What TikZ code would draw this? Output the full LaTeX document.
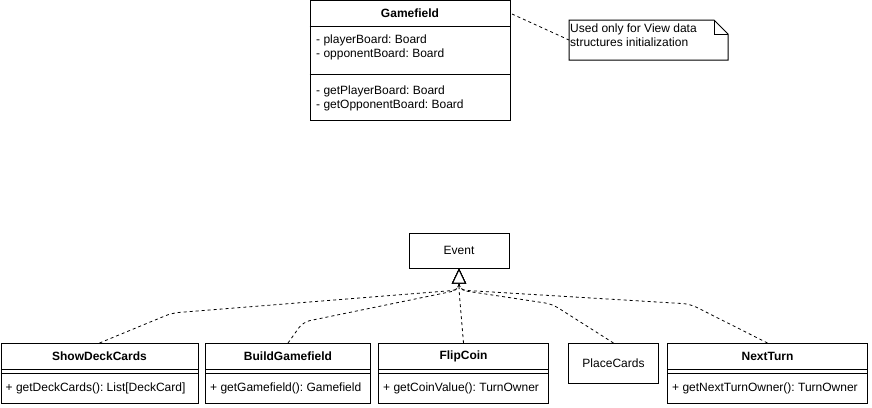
\documentclass[tikz,border=0pt]{standalone}
\usepackage{fontspec}
\setmainfont{Liberation Sans}
\usepackage{tikz}
\usetikzlibrary{arrows.meta,positioning}
\frenchspacing
\tikzset{
  class box/.style={draw=black, line width=1pt, fill=white, inner sep=0pt},
  class name/.style={font=\fontsize{12}{14}\selectfont\bfseries, inner sep=0pt},
  class plain/.style={font=\fontsize{12}{14}\selectfont, inner sep=0pt},
  member/.style={font=\fontsize{12}{13}\selectfont, anchor=west, inner sep=0pt},
  note text/.style={font=\fontsize{12}{14}\selectfont, align=left,
    anchor=north west, inner sep=0pt},
  realize/.style={dash pattern=on 3pt off 3pt, line width=0.8pt,
    rounded corners=7pt,
    -{Triangle[open, length=15pt, width=14pt, line width=1pt, fill=white]}},
  note link/.style={dash pattern=on 3pt off 3pt, line width=0.8pt}
}

\begin{document}
\begin{tikzpicture}[x=1pt, y=-1pt]
  \useasboundingbox (0,0) rectangle (872,407);

  % Gamefield class
  \node[class box, minimum width=200pt, minimum height=120pt] (gf) at (410,60) {};
  \draw[line width=1pt] (gf.west |- 0,26) -- (gf.east |- 0,26);
  \draw[line width=1pt] (gf.west |- 0,74) -- (gf.east |- 0,74);
  \node[class name] (gfname) at (410,13) {Gamefield};
  \node[member] (gfa1) at (316,40.5) {- playerBoard: Board};
  \node[member] (gfa2) at (316,54) {- opponentBoard: Board};
  \node[member] (gfm1) at (316,91.5) {- getPlayerBoard: Board};
  \node[member] (gfm2) at (316,105) {- getOpponentBoard: Board};

  % note
  \coordinate (nw) at (569,20);
  \coordinate (nf) at (714,20);
  \coordinate (nc) at (728,34);
  \coordinate (nse) at (728,60);
  \draw[line width=1pt, fill=white] (nw) -- (nf) -- (nc) -- (nse) -- (nw |- nse) -- cycle;
  \draw[line width=1pt] (nf) -- (nf |- nc) -- (nc);
  \node[note text] (note) at (570,23.5) {Used only for View data\\structures initialization};
  \coordinate (gfout) at (512,14);
  \draw[note link] (gfout) -- (nw |- 0,40);

  % Event
  \node[class box, minimum width=100pt, minimum height=35pt] (ev) at (459,250.5) {};
  \node[class plain] (evname) at (ev) {Event};
  \coordinate (hub) at (459,290);

  % event subclasses
  \node[class box, minimum width=197pt, minimum height=60pt, anchor=north west] (sdc) at (0.5,343) {};
  \node[class box, minimum width=165pt, minimum height=60pt, anchor=north west] (bgf) at (205,343) {};
  \node[class box, minimum width=170pt, minimum height=60pt, anchor=north west] (fc) at (378,343) {};
  \node[class box, minimum width=90pt, minimum height=40pt, anchor=north west] (pc) at (568,343) {};
  \node[class box, minimum width=200pt, minimum height=60pt, anchor=north west] (nt) at (667,343) {};
  \foreach \c in {sdc,bgf,fc,nt} {
    \draw[line width=1pt] (\c.west |- 0,369) -- (\c.east |- 0,369);
    \draw[line width=1pt] (\c.west |- 0,373) -- (\c.east |- 0,373);
  }
  \node[class name] (sdcname) at (sdc.north |- 0,356) {ShowDeckCards};
  \node[class name] (bgfname) at (bgf.north |- 0,356) {BuildGamefield};
  \node[class name] (fcname) at (fc.north |- 0,356) {FlipCoin};
  \node[class plain] (pcname) at (pc) {PlaceCards};
  \node[class name] (ntname) at (nt.north |- 0,356) {NextTurn};
  \node[member] (sdcm) at ([xshift=5pt]sdc.west |- 0,388) {+ getDeckCards(): List[DeckCard]};
  \node[member] (bgfm) at ([xshift=5pt]bgf.west |- 0,388) {+ getGamefield(): Gamefield};
  \node[member] (fcm) at ([xshift=5pt]fc.west |- 0,388) {+ getCoinValue(): TurnOwner};
  \node[member] (ntm) at ([xshift=5pt]nt.west |- 0,388) {+ getNextTurnOwner(): TurnOwner};

  % realizations
  \draw[realize] (sdc.north) -- (172,313) -- (hub) -- (ev.south);
  \draw[realize] (bgf.north) -- (303,322) -- (hub) -- (ev.south);
  \draw[realize] (fc.north) -- (hub) -- (ev.south);
  \draw[realize] (pc.north) -- (552,304) -- (hub) -- (ev.south);
  \draw[realize] (nt.north) -- (690,304) -- (hub) -- (ev.south);
\end{tikzpicture}
\end{document}
